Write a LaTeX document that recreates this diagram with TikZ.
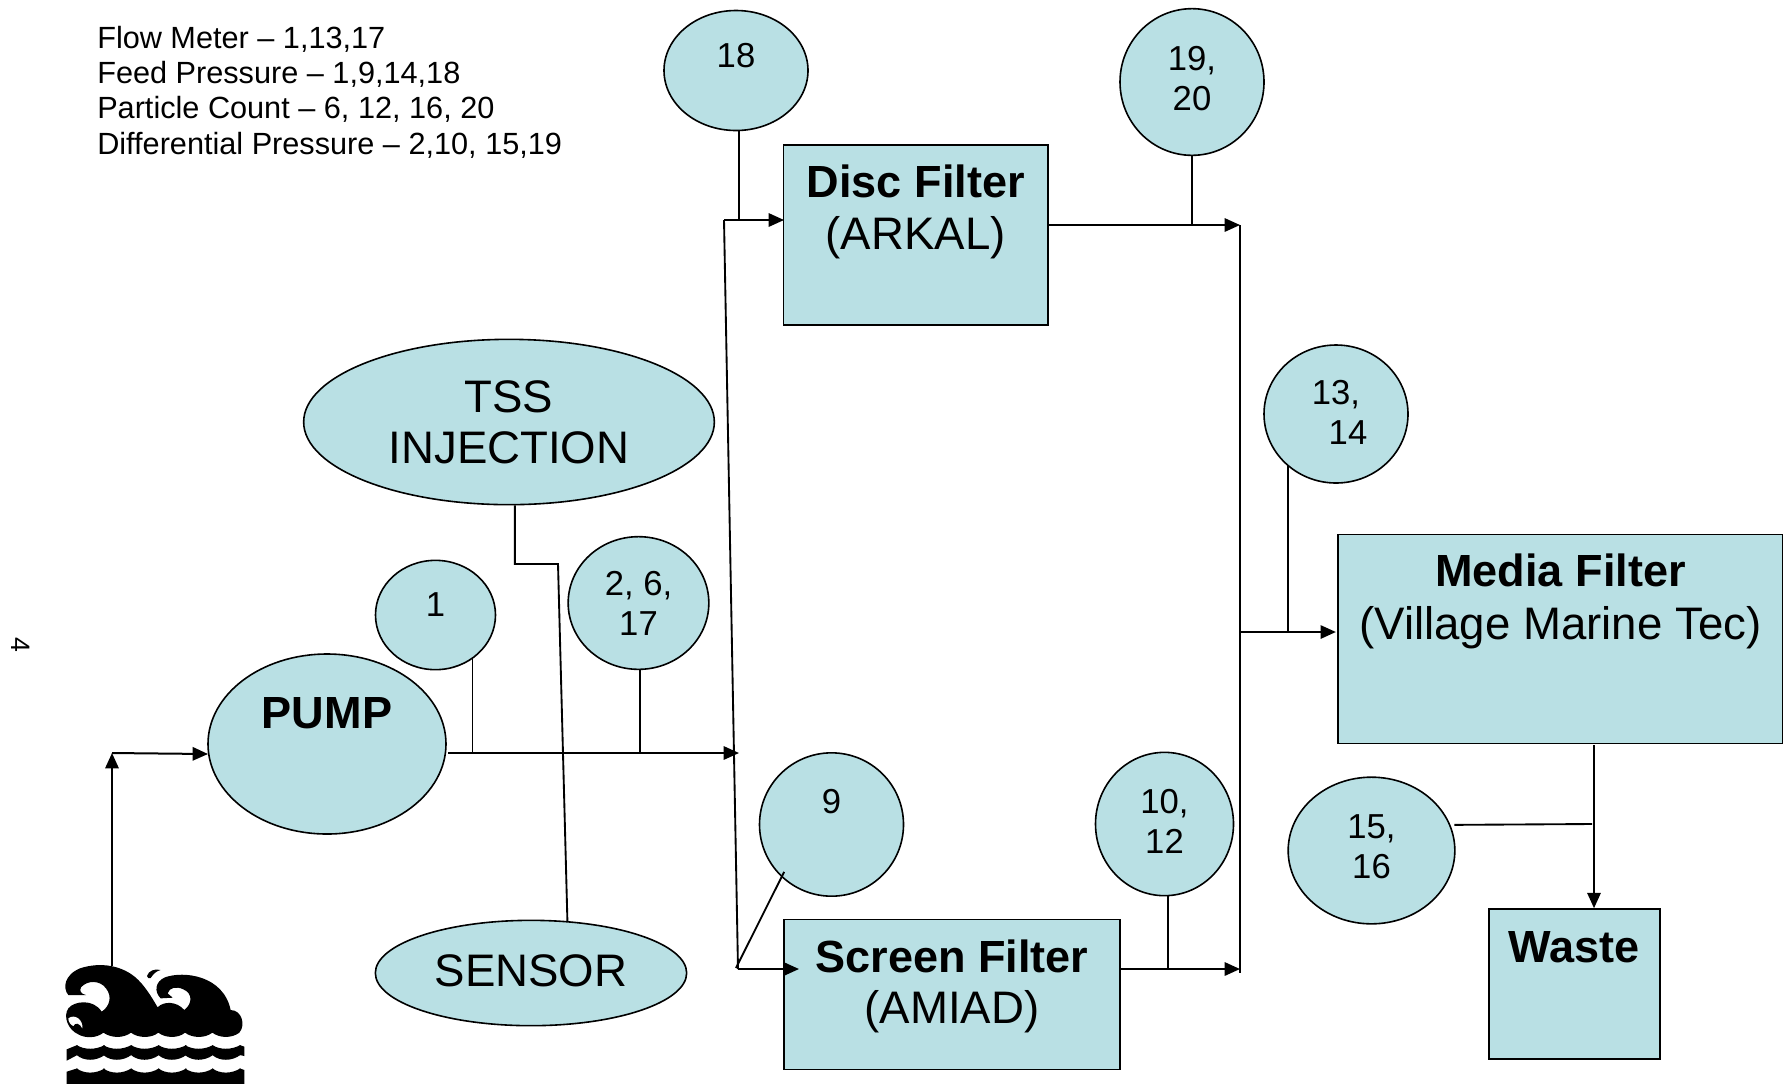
\documentclass[tikz,border=0pt]{standalone}
\usepackage{fontspec}
\setmainfont{Liberation Sans}
\usepackage{tikz}
\usetikzlibrary{shapes.geometric, arrows.meta, positioning, calc}
\definecolor{mydark}{RGB}{0,0,0}
\definecolor{myfill}{RGB}{185,224,228}
\newcommand{\hdr}[1]{{\fontsize{33.8}{38.5}\selectfont\bfseries #1}}
\tikzset{
  block/.style={rectangle, draw=mydark, fill=myfill, align=center, inner sep=0pt,
    font=\fontsize{34.2}{38.5}\selectfont, line width=1.2pt},
  bubble/.style={ellipse, draw=mydark, fill=myfill, align=center, inner sep=0pt,
    font=\fontsize{26}{30}\selectfont, line width=1.2pt},
  bigbubble/.style={bubble, font=\fontsize{34.2}{38.5}\selectfont},
  arrow/.style={-{Triangle[length=11.5pt,width=10pt]}, line width=1.5pt, color=mydark},
  line/.style={line width=1.4pt, color=mydark}
}

\begin{document}
\begin{tikzpicture}[x=0.75pt, y=-0.75pt]
\useasboundingbox (0,0) rectangle (1783,1083);

% legend and page number
\node[anchor=north west, align=left, inner sep=0pt, font=\fontsize{23}{26.5}\selectfont] (legend) at (97,25.7)
  {Flow Meter -- 1,13,17\\Feed Pressure -- 1,9,14,18\\Particle Count -- 6, 12, 16, 20\\Differential Pressure -- 2,10, 15,19};
\node[rotate=-90, inner sep=0pt, font=\fontsize{20}{24}\selectfont] (pageno) at (21,645) {4};

% filters
\node[block, minimum width=198.4pt, minimum height=135pt] (disc) at (915.75,235)
  {\hdr{Disc Filter}\\(ARKAL)\\[3.2pt]~};
\node[block, minimum width=333.75pt, minimum height=157pt] (media) at (1560.5,639)
  {\hdr{Media Filter}\\[1.7pt](Village Marine Tec)\\[25.2pt]~};
\node[block, minimum width=252.4pt, minimum height=112.5pt] (screen) at (952,994.5)
  {\hdr{Screen Filter}\\(AMIAD)\\[-19pt]~};
\node[block, minimum width=128.6pt, minimum height=112.5pt] (waste) at (1574.5,984)
  {\hdr{Waste}\\[17.5pt]~};

% pump, injection, sensor
\node[bigbubble, minimum width=178.5pt, minimum height=135pt] (pump) at (327,744)
  {\hdr{PUMP}\\[7.5pt]~};
\node[bigbubble, minimum width=308pt, minimum height=124pt] (tss) at (509,422) {TSS\\INJECTION};
\node[bigbubble, minimum width=233.5pt, minimum height=79pt] (sensor) at (531,973) {SENSOR\\[-35pt]~};

% sampling points
\node[bubble, minimum width=108pt, minimum height=90pt] (p18) at (736,70.5) {18\\[-8pt]~};
\node[bubble, minimum width=108pt, minimum height=110pt] (p19) at (1192,82) {19,\\20\\[-25pt]~};
\node[bubble, minimum width=108pt, minimum height=103.5pt] (p13) at (1336,414) {13,\\\hspace*{18pt}14\\[-28pt]~};
\node[bubble, minimum width=90pt, minimum height=82pt] (p1) at (435.5,615) {1\\[-15pt]~};
\node[bubble, minimum width=105.5pt, minimum height=99.5pt] (p2) at (638.5,603) {2, 6,\\17};
\node[bubble, minimum width=108pt, minimum height=107.5pt] (p9) at (831.5,824.5) {9\\[4pt]~};
\node[bubble, minimum width=103.5pt, minimum height=107.5pt] (p10) at (1164.5,824) {10,\\12\\[-26.6pt]~};
\node[bubble, minimum width=125pt, minimum height=110pt] (p15) at (1371.5,850.5) {15,\\16\\[-24pt]~};

% waves
\begin{scope}[shift={(0,900)}, x=0.25pt, y=-0.25pt]
\fill[mydark] (235,403) .. controls (205,390) and (188,350) .. (205,325)
  .. controls (222,303) and (280,295) .. (305,335)
  .. controls (328,320) and (338,290) .. (318,265)
  .. controls (300,240) and (262,240) .. (243,262)
  .. controls (238,272) and (242,282) .. (258,285)
  -- (205,285)
  .. controls (188,265) and (192,225) .. (240,205)
  .. controls (300,185) and (370,195) .. (415,240)
  .. controls (440,265) and (460,300) .. (473,322)
  .. controls (490,303) and (530,303) .. (553,330)
  .. controls (578,310) and (578,280) .. (550,268)
  .. controls (530,258) and (508,262) .. (503,280)
  -- (518,293) -- (482,295)
  .. controls (462,275) and (465,245) .. (495,232)
  .. controls (550,212) and (670,225) .. (692,330)
  .. controls (725,330) and (738,375) .. (718,398)
  .. controls (695,415) and (660,415) .. (637,398)
  .. controls (615,415) and (578,415) .. (555,398)
  .. controls (535,415) and (497,415) .. (475,398)
  .. controls (455,415) and (415,415) .. (393,398)
  .. controls (370,415) and (335,415) .. (310,398)
  .. controls (290,415) and (255,415) .. (235,403) -- cycle;
\fill[white] (205,355) .. controls (225,340) and (250,360) .. (247,385)
  .. controls (240,370) and (225,365) .. (220,378) .. controls (212,375) and (205,365) .. (205,355) -- cycle;
\fill[mydark] (441,228) .. controls (445,212) and (465,205) .. (482,210)
  .. controls (470,212) and (460,222) .. (452,234) .. controls (447,236) and (442,234) .. (441,228) -- cycle;
\foreach \cx in {230,310,393,475,555,637}{
  \fill[mydark] (\cx,435) .. controls ($(\cx,450)+(22,0)$) and ($(\cx,450)+(58,0)$) .. ($(\cx,435)+(84,0)$)
    -- ($(\cx,465)+(84,0)$) .. controls ($(\cx,484)+(58,0)$) and ($(\cx,484)+(22,0)$) .. (\cx,465) -- cycle;
  \fill[mydark] (\cx,505) .. controls ($(\cx,522)+(22,0)$) and ($(\cx,522)+(58,0)$) .. ($(\cx,505)+(84,0)$)
    -- ($(\cx,555)+(84,0)$) -- (\cx,555) -- cycle;
}
\fill[mydark] (200,448) -- (232,435) -- (232,465) -- (200,482) -- cycle;
\fill[mydark] (200,515) -- (232,505) -- (232,555) -- (200,555) -- cycle;
\fill[mydark] (719,435) -- (733,440) -- (733,468) -- (719,465) -- cycle;
\fill[mydark] (719,505) -- (733,510) -- (733,555) -- (719,555) -- cycle;
\coordinate (wavetop) at (336,197);
\end{scope}

% feed line
\coordinate (srcup) at (112,753);
\coordinate (pumpin) at (208,754);
\coordinate (pumpout) at (448,753);
\coordinate (split) at (739,753);
\draw[arrow] (wavetop) -- (srcup);
\draw[arrow] (srcup) -- (pumpin);
\draw[arrow] (pumpout) -- (split);
\draw[line] (p1.-50) -- (p1.-50 |- split);
\draw[line] ([xshift=1.2pt]p2.south) -- ([xshift=1.2pt]p2.south |- split);
\draw[line] (tss.-86.5) |- (558,564) -- (sensor.55);

% branch to the filters
\coordinate (disctop) at (724,220);
\coordinate (screenbot) at (738,969);
\draw[line] (disctop) -- (screenbot);
\draw[arrow] (disctop) -- ([xshift=1pt]disc.west |- disctop);
\draw[arrow] (screenbot) -- (799,969);
\draw[line] (p18.-87) -- (p18.-87 |- disctop);
\draw[line] ([xshift=3pt, yshift=3pt]p9.225) -- (736,968);

% return bus
\coordinate (bustop) at (1240,225);
\coordinate (busbot) at (1240,973);
\coordinate (busmid) at (1240,632);
\draw[line] (bustop) -- (busbot);
\draw[arrow] (disc.east |- bustop) -- (bustop);
\draw[arrow] (screen.east |- screenbot) -- (1240,969);
\draw[arrow] (busmid) -- ([xshift=-1pt]media.west |- busmid);
\draw[line] (p19.south) -- (p19.south |- bustop);
\draw[line] (p10.-87) -- (p10.-87 |- screenbot);
\draw[line] ([xshift=0.4pt]p13.227) -- ([xshift=0.4pt]p13.227 |- busmid);

% waste
\coordinate (wasteout) at (1594,745);
\draw[arrow] (wasteout) -- (wasteout |- waste.north);
\draw[line] ([xshift=3pt]p15.18.7) -- (1592,824);
\end{tikzpicture}
\end{document}
